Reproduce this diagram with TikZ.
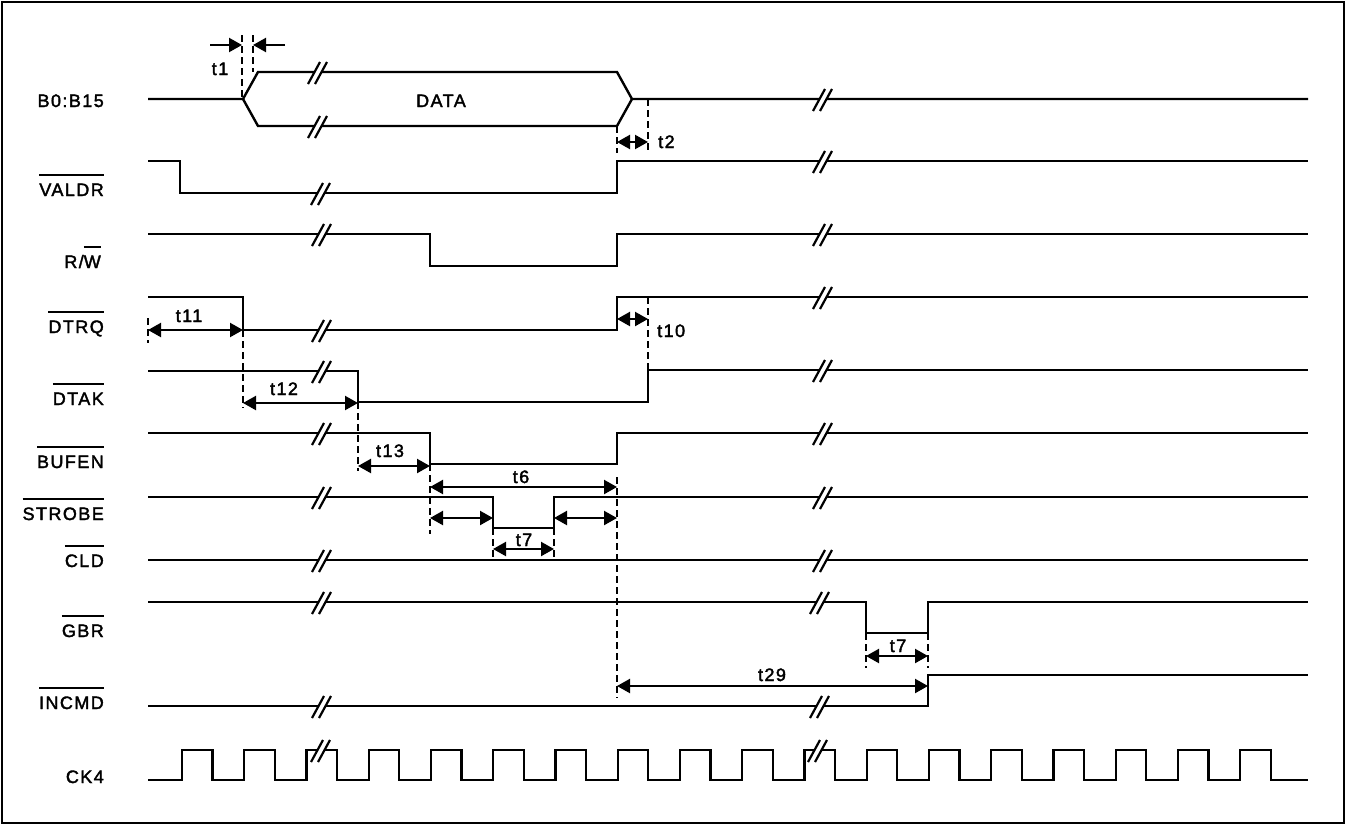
\documentclass[tikz,border=0pt]{standalone}
\usepackage{fontspec}
\setmainfont{Liberation Sans}[LetterSpace=8,FakeBold=2]
\usetikzlibrary{arrows.meta}
\newcommand{\ovl}[1]{\setbox0\hbox{#1}\leavevmode\rlap{\rule[20.5pt]{\wd0}{1.7pt}}\box0}
\tikzset{
  sig/.style={line width=2.4pt, line join=miter},
  dsh/.style={line width=2.2pt, dash pattern=on 7pt off 4pt},
  dim/.style={line width=2.2pt, {Triangle[length=13pt,width=14pt]}-{Triangle[length=13pt,width=14pt]}},
  onehead/.style={line width=2.2pt, -{Triangle[length=13pt,width=14pt]}},
  lab/.style={anchor=base east, inner sep=0pt, font=\fontsize{18}{21}\selectfont},
  tl/.style={anchor=base, inner sep=0pt, font=\fontsize{18}{21}\selectfont},
  brk/.pic={
    \fill[white] (-9,12) -- (3,-10) -- (10,-10) -- (-2,12) -- cycle;
    \draw[line width=2.2pt] (-9,12) -- (3,-10) (-2,12) -- (10,-10);
  }
}
\begin{document}
\begin{tikzpicture}[x=1pt,y=-1pt]
\useasboundingbox (0,0) rectangle (1346,825);
\draw[line width=1.8pt] (2,2) rectangle (1344,823);

% labels
\node[lab] (lB)  at (104,107) {B0:B15};
\node[lab] (lV)  at (104,196) {\ovl{VALDR}};
\node[lab] (lR)  at (101,268) {R/\ovl{W}};
\node[lab] (lDQ) at (104,333) {\ovl{DTRQ}};
\node[lab] (lDK) at (104,405) {\ovl{DTAK}};
\node[lab] (lBU) at (104,468) {\ovl{BUFEN}};
\node[lab] (lST) at (104,520) {\ovl{STROBE}};
\node[lab] (lCL) at (104,567) {\ovl{CLD}};
\node[lab] (lGB) at (104,637) {\ovl{GBR}};
\node[lab] (lIN) at (104,709) {\ovl{INCMD}};
\node[lab] (lCK) at (104,783) {CK4};

% B0:B15
\draw[sig] (148,99) -- (243,99) -- (258,72) -- (617,72) -- (632,99) -- (1308,99);
\draw[sig] (243,99) -- (258,126) -- (617,126) -- (632,99);
\node[tl] (dat) at (441,107) {DATA};
\pic at (317,72) {brk}; \pic at (317,126) {brk}; \pic at (822,99) {brk};

% VALDR
\draw[sig] (148,161) -- (180,161) -- (180,193) -- (617,193) -- (617,161) -- (1308,161);
\pic at (320,193) {brk}; \pic at (822,161) {brk};

% R/W
\draw[sig] (148,234) -- (430,234) -- (430,266) -- (617,266) -- (617,234) -- (1308,234);
\pic at (321,234) {brk}; \pic at (822,234) {brk};

% DTRQ
\draw[sig] (148,297) -- (243,297) -- (243,330) -- (617,330) -- (617,297) -- (1308,297);
\pic at (321,330) {brk}; \pic at (822,297) {brk};

% DTAK
\draw[sig] (148,371) -- (358,371) -- (358,402) -- (648,402) -- (648,370) -- (1308,370);
\pic at (321,371) {brk}; \pic at (822,370) {brk};

% BUFEN
\draw[sig] (148,433) -- (430,433) -- (430,464) -- (617,464) -- (617,433) -- (1308,433);
\pic at (321,433) {brk}; \pic at (822,433) {brk};

% STROBE
\draw[sig] (148,497) -- (493,497) -- (493,528) -- (554,528) -- (554,497) -- (1308,497);
\pic at (321,497) {brk}; \pic at (822,497) {brk};

% CLD
\draw[sig] (148,560) -- (1308,560);
\pic at (321,560) {brk}; \pic at (822,560) {brk};

% GBR
\draw[sig] (148,602) -- (866,602) -- (866,633) -- (928,633) -- (928,602) -- (1308,602);
\pic at (321,602) {brk}; \pic at (819,602) {brk};

% INCMD
\draw[sig] (148,706) -- (928,706) -- (928,675) -- (1308,675);
\pic at (321,706) {brk}; \pic at (819,706) {brk};

% CK4
\draw[sig] (148,780) \foreach \k in {0,...,17}{
   -- ({182+62.25*\k},780) -- ({182+62.25*\k},750) -- ({212.5+62.25*\k},750) -- ({212.5+62.25*\k},780)}
   -- (1308,780);
\pic at (320,750) {brk}; \pic at (817,750) {brk};

% t1
\draw[dsh] (242,35) -- (242,99);
\draw[dsh] (253,35) -- (253,72);
\draw[onehead] (210,45) -- (242,45);
\draw[onehead] (285,45) -- (253,45);
\node[tl] (t1) at (220,75) {t1};

% t2
\draw[dsh] (617,126) -- (617,153);
\draw[dsh] (648,99) -- (648,153);
\draw[dim] (617,142) -- (648,142);
\node[tl, anchor=base west] (t2) at (658,148) {t2};

% t10
\draw[dsh] (648,297) -- (648,370);
\draw[dim] (617,319) -- (648,319);
\node[tl, anchor=base west] (t10) at (657,337) {t10};

% t11
\draw[dsh] (148,318) -- (148,343);
\draw[dim] (148,330) -- (243,330);
\node[tl] (t11) at (189,322) {t11};

% t12
\draw[dsh] (243,330) -- (243,408);
\draw[dim] (243,403) -- (358,403);
\node[tl] (t12) at (284,395) {t12};

% t13
\draw[dsh] (358,402) -- (358,471);
\draw[dim] (358,466) -- (430,466);
\node[tl] (t13) at (390,457) {t13};

% t6
\draw[dsh] (430,464) -- (430,534);
\draw[dsh] (617,477) -- (617,698);
\draw[dim] (430,487) -- (617,487);
\node[tl] (t6) at (521,483) {t6};
\draw[dim] (430,518) -- (493,518);
\draw[dim] (554,518) -- (617,518);

% t7 strobe
\draw[dsh] (493,528) -- (493,560);
\draw[dsh] (554,528) -- (554,560);
\draw[dim] (493,549) -- (554,549);
\node[tl] (t7a) at (524,546) {t7};

% t7 GBR
\draw[dsh] (866,633) -- (866,668);
\draw[dsh] (928,633) -- (928,668);
\draw[dim] (866,656) -- (928,656);
\node[tl] (t7b) at (898,652) {t7};

% t29
\draw[dim] (617,686) -- (928,686);
\node[tl] (t29) at (772,681) {t29};
\end{tikzpicture}
\end{document}
